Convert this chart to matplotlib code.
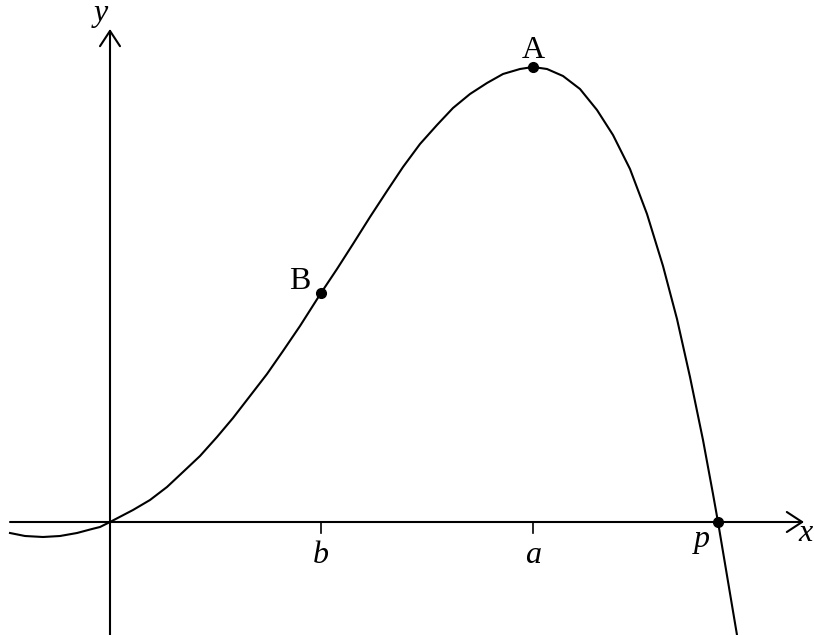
import matplotlib
matplotlib.use("Agg")
import matplotlib.pyplot as plt

# Curve (units: 1 = 100 px, origin at the axes crossing)
curve_x = [-1.00, -0.85, -0.67, -0.50, -0.33, -0.18, -0.10, 0.00,
           0.23, 0.40, 0.57, 0.73, 0.90, 1.07, 1.23, 1.40, 1.57, 1.73, 1.90, 2.11,
           2.27, 2.43, 2.60, 2.77, 2.93, 3.10, 3.27, 3.43, 3.60, 3.77, 3.93, 4.10, 4.23,
           4.37, 4.53, 4.70, 4.87, 5.03, 5.20, 5.37, 5.53, 5.67, 5.80, 5.93, 6.03, 6.08, 6.27]
curve_y = [-0.11, -0.14, -0.15, -0.14, -0.11, -0.07, -0.05, 0.00,
           0.12, 0.22, 0.35, 0.50, 0.66, 0.85, 1.04, 1.26, 1.48, 1.71, 1.96, 2.29,
           2.53, 2.78, 3.05, 3.31, 3.55, 3.78, 3.97, 4.14, 4.28, 4.39, 4.48, 4.53, 4.55,
           4.53, 4.46, 4.33, 4.12, 3.87, 3.53, 3.08, 2.56, 2.03, 1.45, 0.82, 0.28, 0.00, -1.13]

point_names = ["A", "B"]
point_x = [4.23, 2.11]
point_y = [4.55, 2.29]

tick_names = ["b", "a"]
tick_x = [2.11, 4.23]
root_name = "p"
root_x = 6.08

fig = plt.figure(figsize=(8.14, 6.35), dpi=100)
ax = fig.add_axes([0, 0, 1, 1])
ax.set_xlim(-1.10, 7.04)
ax.set_ylim(-1.13, 5.22)
ax.axis("off")

lw = 1.5
arrow = dict(arrowstyle="->, head_length=1.1, head_width=0.72", lw=lw,
             color="black", shrinkA=0, shrinkB=0, mutation_scale=10)
# x axis
ax.annotate("", xy=(6.94, 0), xytext=(-1.00, 0), arrowprops=arrow)
# y axis
ax.annotate("", xy=(0, 4.93), xytext=(0, -1.15), arrowprops=arrow)

# curve
ax.plot(curve_x, curve_y, color="black", lw=lw, solid_joinstyle="round", zorder=3)

# ticks
for tx in tick_x:
    ax.plot([tx, tx], [0, -0.11], color="black", lw=1.2)

# points
ax.plot(point_x, point_y, "o", color="black", ms=7, zorder=4)
ax.plot([root_x], [0], "o", color="black", ms=7, zorder=4)

serif = "Liberation Serif"
fs = 23
ax.text(-0.09, 5.01, "y", fontsize=fs, family=serif, style="italic", ha="center", va="baseline")
ax.text(7.03, -0.19, "x", fontsize=fs, family=serif, style="italic", ha="right", va="baseline")
for name, tx in zip(tick_names, tick_x):
    ax.text(tx, -0.41, name, fontsize=fs, family=serif, style="italic", ha="center", va="baseline")
ax.text(root_x - 0.16, -0.25, root_name, fontsize=fs, family=serif, style="italic",
        ha="center", va="baseline")
ax.text(point_x[0], point_y[0] + 0.09, point_names[0], fontsize=fs, family=serif,
        ha="center", va="baseline")
ax.text(point_x[1] - 0.21, point_y[1] + 0.04, point_names[1], fontsize=fs, family=serif,
        ha="center", va="baseline")

fig.savefig("out.png", dpi=100)
